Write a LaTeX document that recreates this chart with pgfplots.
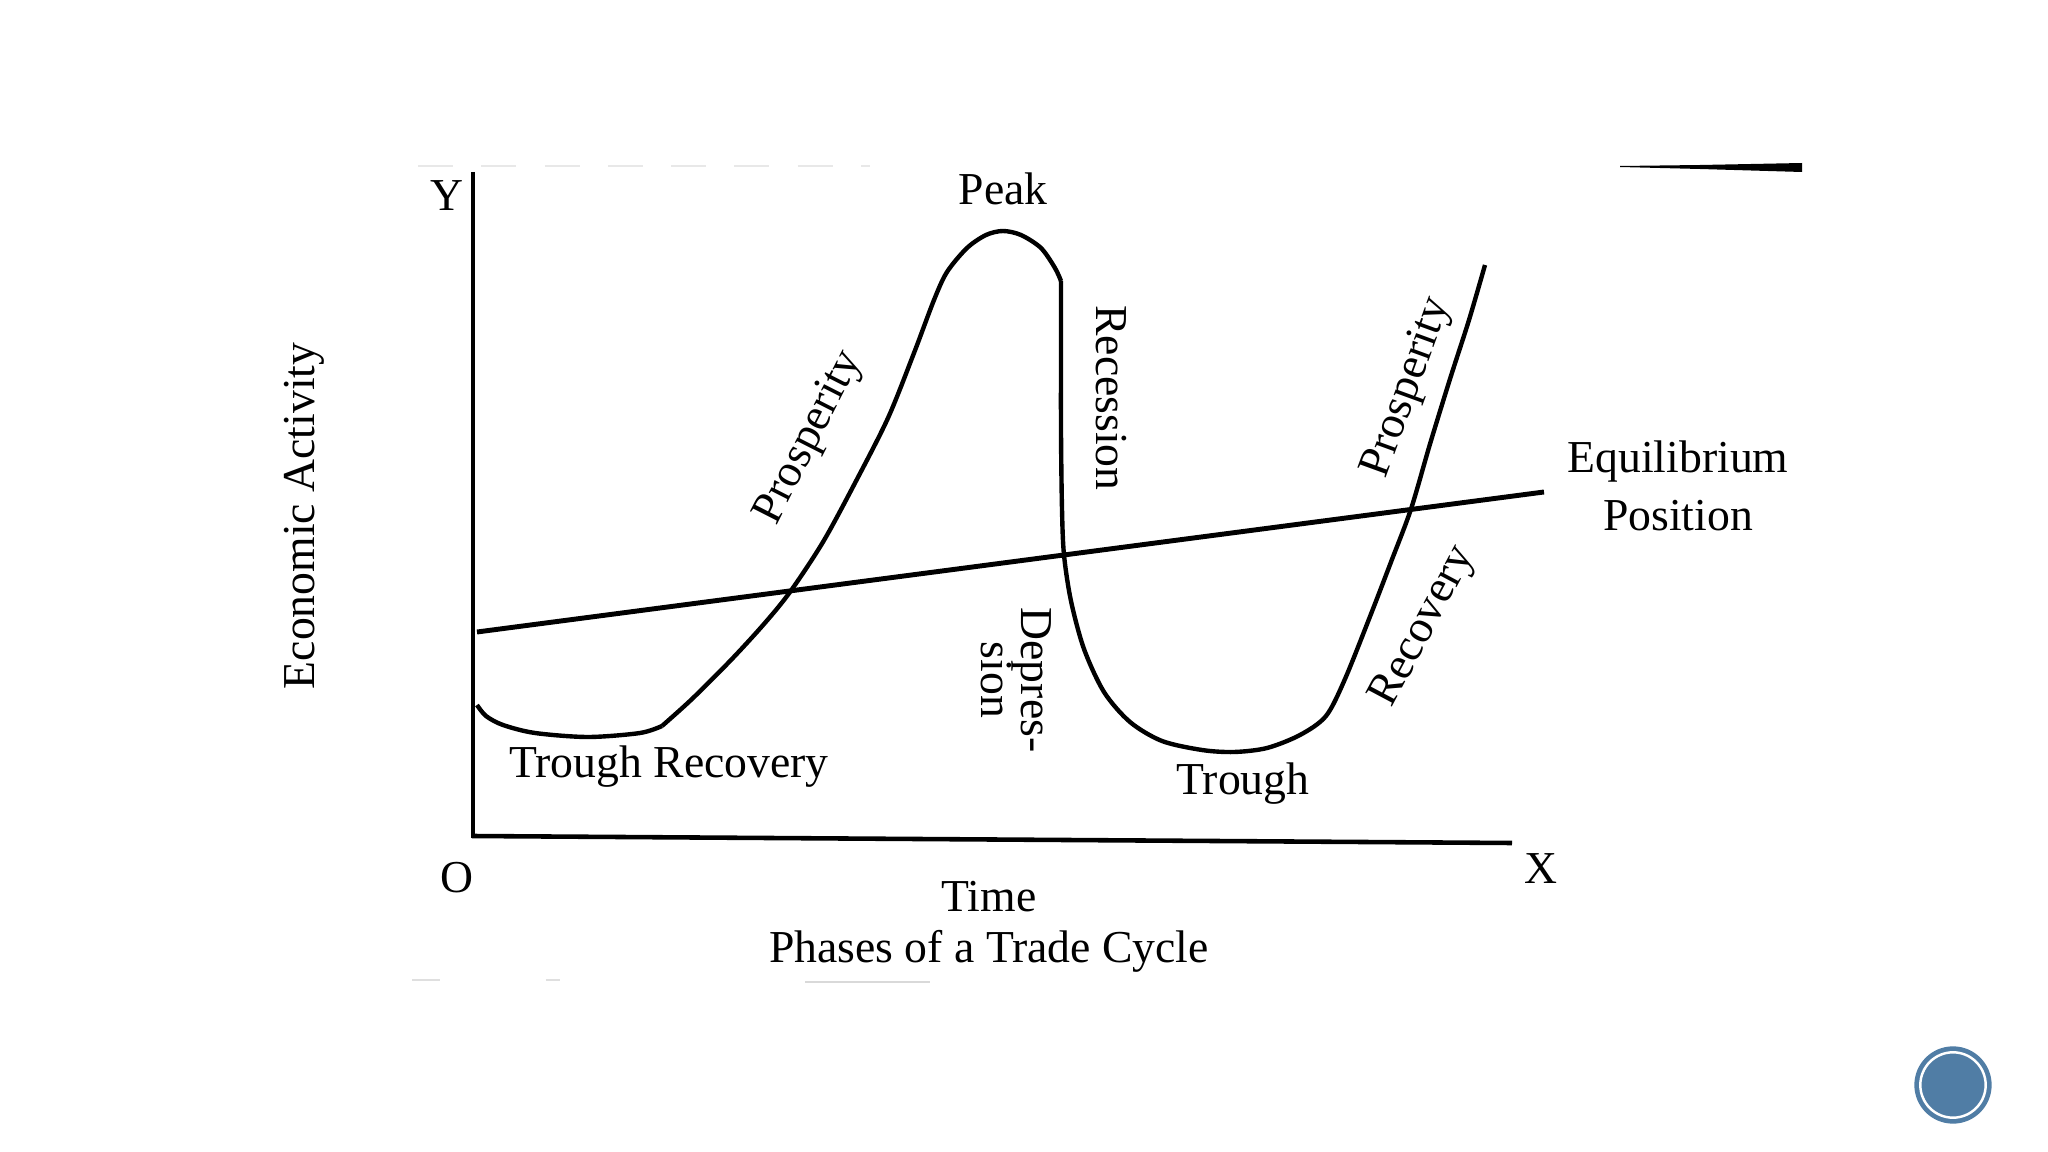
\documentclass[border=0pt]{standalone}
\usepackage{pgfplots}
\pgfplotsset{compat=1.18}
\usepackage{fontspec}
\setmainfont{Liberation Serif}
\begin{document}
\begin{tikzpicture}
\begin{axis}[
  width=20.48cm, height=11.52cm, scale only axis,
  xmin=0, xmax=2048, ymin=0, ymax=1152, y dir=reverse,
  hide axis, clip=false,
]
\path (axis cs:0,0) rectangle (axis cs:2048,1152);
% faint scan edges
\addplot[gray!18, line width=0.5pt, dash pattern=on 10pt off 8pt] coordinates {(418,166)(870,166)};
\addplot[gray!25, line width=0.5pt, dash pattern=on 8pt off 30pt] coordinates {(412,980)(560,980)};
\addplot[gray!30, line width=0.6pt] coordinates {(805,982)(930,982)};
% top right tapered stroke
\addplot[fill=black, draw=none] coordinates {(1620,166)(1700,165)(1802,163)(1802,172)(1700,169)(1620,167)} -- cycle;
% axes
\addplot[black, line width=1.3pt] coordinates {(473,172)(473,838)};
\addplot[black, line width=1.3pt] coordinates {(472,836)(1512,843)};
% equilibrium line
\addplot[black, line width=1.4pt] coordinates {(477,632)(1544,492)};
% cycle curve
\addplot[black, line width=1.25pt, smooth] coordinates {(477,705)(486,716)(503,725)(535,733)(588,737)(640,733)(662,726)};
\addplot[black, line width=1.25pt, smooth] coordinates {(662,726)(692,699)(731,660)(764,624)(790,592)(823,542)(855,483)(888,418)(914,353)(934,300)(947,272)(967,248)(986,235)(1003,231)(1021,235)(1041,248)(1055,268)(1061,281)};
\addplot[black, line width=1.25pt, smooth] coordinates {(1061,281)(1061,340)(1061,431)(1062,509)(1064,555)(1071,601)(1084,649)(1104,692)(1130,722)(1162,741)(1202,750)(1234,752)(1267,748)(1300,735)(1326,716)(1345,679)(1371,614)(1391,562)(1411,509)(1430,444)(1450,379)(1469,320)(1485,265)};
% badge
\addplot[only marks, mark=*, mark size=10.8pt, mark options={fill={rgb,255:red,80;green,125;blue,165}, draw={rgb,255:red,80;green,125;blue,165}}] coordinates {(1953,1085)};
\addplot[only marks, mark=o, mark size=9.3pt, mark options={draw=white, line width=0.7pt}] coordinates {(1953,1085)};
% labels
\begin{scope}[every node/.style={font=\fontsize{13}{15.6}\selectfont, inner sep=0pt}]
\node at (axis cs:447,196) {Y};
\node at (axis cs:457,878) {O};
\node at (axis cs:1541,869) {X};
\node at (axis cs:1003,189) {Peak};
\node[rotate=63] at (axis cs:810,438) {Prosperity};
\node[rotate=-90] at (axis cs:1111,398) {Recession};
\node[rotate=70] at (axis cs:1408,388) {Prosperity};
\node[rotate=62] at (axis cs:1424,627) {Recovery};
\node[rotate=-90, align=center, font=\fontsize{13}{11.5}\selectfont] at (axis cs:1016,680) {Depres-\\sion};
\node at (axis cs:669,767) {Trough Recovery};
\node at (axis cs:1243,784) {Trough};
\node at (axis cs:1678,462) {Equilibrium};
\node at (axis cs:1678,516) {Position};
\node at (axis cs:989,897) {Time};
\node at (axis cs:989,951) {Phases of a Trade Cycle};
\node[rotate=90] at (axis cs:304,516) {Economic Activity};
\end{scope}
\end{axis}
\end{tikzpicture}
\end{document}
